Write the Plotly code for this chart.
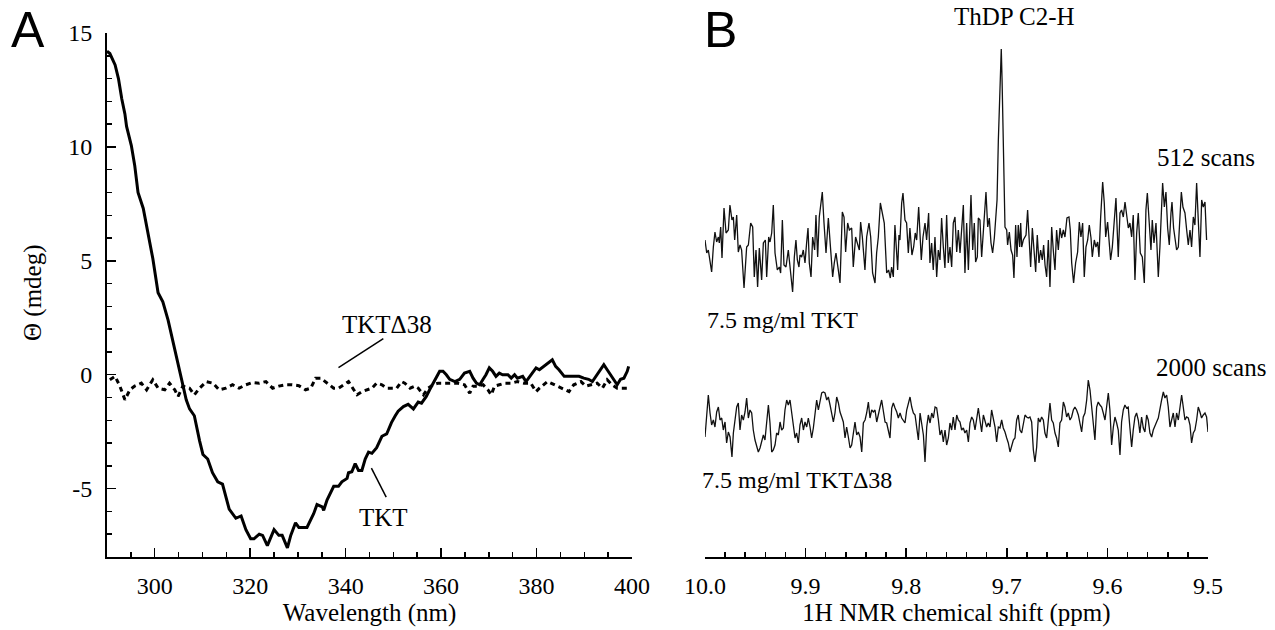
import plotly.graph_objects as go

# ---------------- Panel A: CD spectra (wavelength nm, theta mdeg) ----------------
CD_TKT = [
    (290.0, 14.2), (290.6, 14.1), (291.7, 13.6), (292.4, 13.0), (293.1, 12.1), (293.75, 11.45),
    (294.1, 10.9), (295.1, 10.06), (295.8, 9.2), (296.5, 8.0), (297.6, 7.3), (298.6, 6.2),
    (299.6, 5.1), (300.7, 3.6), (301.7, 3.2), (302.8, 2.4), (304.5, 0.8), (305.6, -0.3),
    (306.6, -1.1), (307.3, -1.5), (308.3, -1.8), (309.4, -2.9), (310.1, -3.5), (311.1, -3.7),
    (312.1, -4.3), (313.2, -4.7), (314.2, -4.8), (315.6, -5.9), (317.0, -6.3), (318.1, -6.2),
    (319.1, -6.8), (320.1, -7.2), (320.8, -7.2), (321.9, -7.0), (322.6, -7.05), (323.6, -7.5),
    (325.0, -6.8), (326.0, -7.05), (326.7, -7.05), (327.8, -7.6), (328.5, -7.05), (329.5, -6.5),
    (330.2, -6.7), (331.9, -6.7), (333.3, -6.1), (334.0, -5.7), (335.1, -5.8), (335.4, -5.95),
    (336.1, -5.5), (337.5, -4.9), (338.5, -4.9), (339.2, -4.7), (340.3, -4.55), (340.6, -4.3),
    (341.3, -4.26), (342.0, -3.9), (342.7, -4.2), (343.4, -4.2), (344.1, -3.7), (344.8, -3.4),
    (345.5, -3.45), (346.5, -3.2), (347.6, -2.7), (348.6, -2.6), (349.6, -2.1), (350.4, -1.8),
    (351.0, -1.6), (352.1, -1.4), (353.1, -1.3), (354.2, -1.5), (355.2, -1.2), (355.9, -1.25),
    (356.9, -0.95), (357.6, -0.66), (358.3, -0.37), (359.0, -0.15), (359.7, 0.15), (360.4, 0.15),
    (361.1, 0.0), (361.8, -0.2), (362.9, -0.3), (363.9, -0.2), (364.9, 0.07), (366.0, 0.15),
    (366.7, -0.15), (367.4, -0.37), (368.1, -0.44), (368.8, -0.2), (369.4, 0.0), (370.1, 0.3),
    (370.8, 0.15), (371.5, -0.07), (372.2, 0.07), (372.9, 0.0), (374.0, 0.0), (374.7, -0.15),
    (375.4, 0.0), (376.0, -0.15), (377.1, -0.07), (377.8, -0.3), (378.8, 0.0), (379.9, 0.3),
    (380.6, 0.22), (381.6, 0.37), (382.3, 0.51), (383.3, 0.66), (384.0, 0.37), (384.7, 0.22),
    (385.8, -0.07), (386.8, -0.07), (387.8, -0.07), (388.9, -0.07), (389.9, -0.15), (390.9, -0.2),
    (391.7, -0.3), (392.7, 0.0), (393.8, 0.37), (394.1, 0.44), (394.8, 0.22), (395.5, 0.0),
    (396.2, -0.2), (396.9, -0.44), (397.6, -0.2), (398.3, -0.15), (399.0, 0.15), (399.3, 0.37),
]

CD_TKT_D38 = [
    (290.6, -0.22), (291.7, -0.07), (292.7, -0.5), (293.75, -1.1), (294.8, -0.66), (295.8, -0.5),
    (297.2, -0.37), (298.3, -0.66), (299.6, -0.22), (300.7, -0.59), (302.1, -0.66), (303.1, -0.37),
    (304.2, -0.66), (304.9, -0.95), (305.9, -0.5), (307.3, -0.59), (308.3, -0.88), (309.4, -0.59),
    (310.8, -0.3), (312.2, -0.37), (313.5, -0.66), (314.9, -0.59), (316.3, -0.44), (317.7, -0.59),
    (319.1, -0.44), (320.5, -0.34), (321.9, -0.37), (323.3, -0.3), (324.7, -0.59), (326.0, -0.5),
    (327.4, -0.44), (328.8, -0.44), (330.2, -0.48), (331.6, -0.66), (332.7, -0.59), (333.7, -0.15),
    (334.8, -0.15), (335.8, -0.3), (336.5, -0.44), (337.5, -0.59), (338.5, -0.59), (339.6, -0.44),
    (340.6, -0.3), (341.7, -0.66), (342.4, -0.88), (343.4, -0.74), (344.5, -0.66), (345.5, -0.59),
    (346.5, -0.37), (347.6, -0.44), (348.6, -0.59), (349.6, -0.59), (350.7, -0.59), (351.7, -0.3),
    (352.4, -0.37), (353.5, -0.59), (354.5, -0.5), (355.2, -0.59), (356.3, -0.88), (357.3, -0.59),
    (358.3, -0.44), (359.4, -0.37), (360.8, -0.37), (362.2, -0.37), (363.5, -0.37), (364.9, -0.44),
    (366.0, -0.81), (366.7, -0.5), (367.7, -0.5), (368.8, -0.44), (369.8, -0.66), (370.5, -0.88),
    (371.2, -0.5), (372.2, -0.44), (373.3, -0.37), (374.7, -0.37), (376.0, -0.3), (377.4, -0.37),
    (378.8, -0.37), (379.9, -0.74), (380.6, -0.59), (382.3, -0.3), (383.7, -0.44), (385.1, -0.59),
    (386.8, -0.74), (387.8, -0.44), (389.3, -0.3), (390.3, -0.5), (391.4, -0.44), (392.7, -0.37),
    (393.8, -0.59), (394.8, -0.22), (395.8, -0.44), (396.9, -0.59), (398.3, -0.59), (399.3, -0.59),
]

CD_X_TICKS = [300, 320, 340, 360, 380, 400]
CD_Y_TICKS = [-5, 0, 5, 10, 15]
CD_Y_TICKTEXT = ["-5", "0", "5", "10", "15"]

# ---------------- Panel B: 1H NMR spectra (ppm, intensity a.u.) ----------------
NMR_TKT = [
    (10.0000, 0.0), (9.9983, -1.3), (9.9967, -1.0), (9.9950, -2.0), (9.9934, -3.2), (9.9917, -0.7),
    (9.9901, 0.8), (9.9884, -0.2), (9.9867, 0.3), (9.9858, -0.3), (9.9844, 1.3), (9.9831, -1.8),
    (9.9811, 3.2), (9.9791, 0.7), (9.9768, 1.0), (9.9752, 3.5), (9.9732, 2.0), (9.9718, 2.3),
    (9.9705, 0.0), (9.9685, 2.5), (9.9669, -1.2), (9.9652, -0.5), (9.9636, -1.0), (9.9612, -4.8),
    (9.9586, -0.7), (9.9569, -0.5), (9.9546, 1.7), (9.9526, 1.3), (9.9510, -3.7), (9.9493, -1.0),
    (9.9477, -4.7), (9.9460, -0.8), (9.9437, -4.0), (9.9420, -0.3), (9.9400, 0.0), (9.9387, -3.7),
    (9.9367, 0.3), (9.9354, -0.2), (9.9337, 0.7), (9.9321, 3.5), (9.9304, -1.3), (9.9281, -3.0),
    (9.9261, -2.7), (9.9248, -3.3), (9.9231, 2.0), (9.9215, -2.5), (9.9195, -2.7), (9.9172, -1.0),
    (9.9155, -3.0), (9.9129, -5.2), (9.9112, -1.7), (9.9096, 0.0), (9.9082, -2.0), (9.9066, -2.7),
    (9.9056, -1.5), (9.9039, -1.7), (9.9023, -1.0), (9.9006, -2.3), (9.8990, -0.3), (9.8976, 1.2),
    (9.8963, -2.3), (9.8946, -3.7), (9.8930, 0.3), (9.8910, -1.0), (9.8897, 2.5), (9.8880, -1.7),
    (9.8864, 2.3), (9.8850, 3.3), (9.8834, 4.8), (9.8817, 1.7), (9.8797, -1.3), (9.8774, 2.2),
    (9.8751, -1.0), (9.8731, -3.7), (9.8715, -2.3), (9.8698, -1.3), (9.8675, -3.0), (9.8658, -4.3),
    (9.8635, 2.8), (9.8618, 2.3), (9.8602, -1.2), (9.8582, 1.7), (9.8565, 1.0), (9.8542, 1.2),
    (9.8526, -2.7), (9.8503, 0.3), (9.8486, -0.3), (9.8466, -1.0), (9.8453, 1.8), (9.8436, 0.3),
    (9.8410, -3.0), (9.8393, 0.3), (9.8370, 1.7), (9.8353, 0.3), (9.8334, -3.3), (9.8310, -4.3),
    (9.8294, -1.3), (9.8277, 0.3), (9.8257, 3.7), (9.8234, 2.7), (9.8218, 1.7), (9.8194, -3.3),
    (9.8175, -3.0), (9.8158, -3.8), (9.8145, -2.7), (9.8128, -3.7), (9.8112, 1.5), (9.8095, -1.3),
    (9.8085, -3.0), (9.8072, 0.5), (9.8062, 0.0), (9.8045, 3.7), (9.8032, 4.7), (9.8012, 2.0),
    (9.7996, 1.7), (9.7979, -1.3), (9.7963, 1.2), (9.7943, -1.5), (9.7926, -0.7), (9.7910, 0.7),
    (9.7896, 0.0), (9.7876, 3.3), (9.7863, 0.3), (9.7850, -2.0), (9.7833, 0.3), (9.7813, 1.7),
    (9.7797, 0.0), (9.7777, 2.7), (9.7764, -2.3), (9.7747, -0.3), (9.7731, -3.0), (9.7714, 0.3),
    (9.7697, -3.7), (9.7681, -1.0), (9.7664, -2.0), (9.7648, 2.2), (9.7631, -0.7), (9.7615, -2.8),
    (9.7598, 2.5), (9.7582, -2.3), (9.7565, -0.7), (9.7548, -2.7), (9.7532, 1.7),
    (9.7515, 2.3), (9.7498, -1.2), (9.7482, 1.0), (9.7465, -1.3), (9.7449, 1.7), (9.7432, 3.5),
    (9.7416, -3.3), (9.7399, 1.7), (9.7382, -3.0), (9.7366, 1.3), (9.7356, 4.5), (9.7339, -1.0),
    (9.7323, 1.7), (9.7310, -2.2), (9.7293, -1.7), (9.7283, 2.2), (9.7267, 2.0), (9.7250, -1.7),
    (9.7237, 0.3), (9.7223, 2.5), (9.7207, 4.8), (9.7190, 1.3), (9.7174, 2.2), (9.7157, -0.3),
    (9.7141, -1.3), (9.7124, 0.2), (9.7111, 1.7),
    (9.7097, 4.0), (9.7084, 10.0), (9.7072, 15.0), (9.7062, 18.5), (9.7055, 19.1), (9.7047, 16.0),
    (9.7036, 9.0), (9.7027, 3.0),
    (9.7018, 1.3), (9.7001, 1.0), (9.6992, -0.5), (9.6975, 0.8), (9.6958, -1.0), (9.6942, -1.5),
    (9.6929, -3.8), (9.6912, 1.5), (9.6899, -1.7), (9.6886, 1.5), (9.6872, -0.7), (9.6862, 1.7),
    (9.6852, -0.7), (9.6836, 0.0), (9.6809, 0.5), (9.6793, 3.0), (9.6780, -0.2), (9.6763, -2.7),
    (9.6746, 1.2), (9.6727, -1.3), (9.6713, -3.2), (9.6697, 0.5), (9.6680, -2.3), (9.6664, -1.0),
    (9.6647, -2.0), (9.6634, -0.5), (9.6620, -2.5), (9.6604, -3.7), (9.6587, 0.0), (9.6571, -4.7),
    (9.6554, 1.3), (9.6538, -1.0), (9.6521, -3.0), (9.6505, 1.0), (9.6488, -1.0), (9.6471, 1.2),
    (9.6455, 0.2), (9.6438, 1.0), (9.6422, 0.3), (9.6402, 2.2), (9.6382, 2.3), (9.6369, 1.0),
    (9.6355, -2.3), (9.6336, -4.3), (9.6316, -2.3), (9.6296, -1.2), (9.6279, 1.8), (9.6263, 0.3),
    (9.6246, 1.7), (9.6230, -3.7), (9.6213, -0.7), (9.6196, 0.0), (9.6180, 1.5), (9.6163, 0.2),
    (9.6150, -1.7), (9.6130, 0.0), (9.6114, -0.7), (9.6097, -0.2), (9.6084, -1.7), (9.6067, 2.3),
    (9.6047, 5.8), (9.6031, 3.7), (9.6017, 0.3), (9.5998, 1.8), (9.5981, 0.0), (9.5968, -2.0),
    (9.5951, -0.7), (9.5935, 2.0), (9.5915, 4.2), (9.5892, -1.7), (9.5875, 2.7), (9.5859, 3.0),
    (9.5842, 2.3), (9.5825, 3.8), (9.5809, 2.2), (9.5792, 1.2), (9.5776, 1.7), (9.5759, 0.3),
    (9.5743, 2.5), (9.5726, -4.0), (9.5709, 0.7), (9.5693, 2.7), (9.5673, -1.3), (9.5653, -1.7),
    (9.5633, -4.3), (9.5617, 3.0), (9.5603, 4.7), (9.5587, 2.5), (9.5567, -1.0), (9.5554, 2.0),
    (9.5537, -0.3), (9.5517, 1.7), (9.5494, -3.7), (9.5478, -0.7), (9.5461, 3.0), (9.5451, 5.7),
    (9.5434, 3.3), (9.5418, 4.8), (9.5401, 1.2), (9.5385, -0.5), (9.5368, 2.7), (9.5358, 3.8),
    (9.5342, 1.2), (9.5328, 0.2), (9.5312, -1.0), (9.5295, -0.7), (9.5279, 2.7), (9.5265, 4.8),
    (9.5249, 3.3), (9.5229, 2.7), (9.5212, 1.0), (9.5196, -0.5), (9.5179, 1.0), (9.5163, -0.7),
    (9.5146, 2.3), (9.5130, 1.5), (9.5113, 5.7), (9.5096, 1.3), (9.5080, -1.7), (9.5063, 4.0),
    (9.5047, 3.3), (9.5030, 3.8), (9.5014, 0.0),
]

NMR_TKT_D38 = [
    (10.0000, -1.4), (9.9983, 1.0), (9.9967, 2.8), (9.9950, 1.0), (9.9934, -0.2), (9.9917, 0.3),
    (9.9901, -0.4), (9.9884, 1.1), (9.9867, 1.6), (9.9851, 0.3), (9.9834, 0.5), (9.9818, -0.7),
    (9.9801, 0.1), (9.9785, -2.0), (9.9768, -0.9), (9.9751, -1.4), (9.9732, -3.4), (9.9718, -1.0),
    (9.9702, 0.3), (9.9685, 1.6), (9.9669, 2.0), (9.9652, -0.7), (9.9636, 0.8), (9.9619, 0.3),
    (9.9602, 1.1), (9.9586, 2.5), (9.9569, 0.5), (9.9553, 1.3), (9.9536, 1.0), (9.9520, -0.7),
    (9.9503, -1.7), (9.9486, -2.4), (9.9470, -2.9), (9.9453, -2.5), (9.9437, -1.9), (9.9420, -1.2),
    (9.9404, -1.7), (9.9387, 0.1), (9.9370, 1.8), (9.9354, 0.0), (9.9337, -2.9), (9.9321, -2.7),
    (9.9304, -2.2), (9.9288, -1.0), (9.9271, -1.2), (9.9254, 0.1), (9.9238, -0.7), (9.9221, -0.5),
    (9.9205, 1.3), (9.9188, 2.3), (9.9172, 1.8), (9.9155, 2.3), (9.9138, 1.1), (9.9122, 0.0),
    (9.9105, -1.5), (9.9089, -1.0), (9.9072, -2.0), (9.9056, -0.2), (9.9039, 0.5), (9.9022, -0.7),
    (9.9006, 0.1), (9.8989, -0.4), (9.8973, 0.5), (9.8956, -0.4), (9.8940, -1.5), (9.8923, -0.5),
    (9.8906, 1.0), (9.8890, 2.3), (9.8873, 1.3), (9.8857, 2.0), (9.8840, 3.0), (9.8824, 3.1),
    (9.8807, 3.0), (9.8790, 2.3), (9.8774, 2.6), (9.8757, 1.8), (9.8741, 1.1), (9.8724, 0.1),
    (9.8708, 1.0), (9.8691, 2.6), (9.8674, 2.0), (9.8658, 1.1), (9.8641, 0.6), (9.8625, 0.1),
    (9.8608, -1.5), (9.8592, -0.4), (9.8575, -1.4), (9.8558, -2.5), (9.8542, -2.2), (9.8525, -0.7),
    (9.8509, 0.1), (9.8492, -1.2), (9.8476, -0.9), (9.8459, -1.4), (9.8442, -2.9), (9.8426, 0.0),
    (9.8409, 0.3), (9.8393, 1.0), (9.8376, 2.1), (9.8360, 0.5), (9.8343, 1.3), (9.8326, 1.1),
    (9.8310, 1.3), (9.8293, 0.1), (9.8277, 1.0), (9.8260, 1.6), (9.8244, 2.3), (9.8227, 1.0),
    (9.8210, 0.1), (9.8194, 0.0), (9.8177, -0.7), (9.8161, -1.5), (9.8144, 1.5), (9.8128, 2.0),
    (9.8111, 1.5), (9.8094, 1.1), (9.8078, 0.5), (9.8061, 1.0), (9.8045, 0.5), (9.8028, 0.3),
    (9.8012, 0.0), (9.7995, 1.3), (9.7978, 2.1), (9.7962, 2.6), (9.7945, 1.6), (9.7929, 1.0),
    (9.7912, 0.8), (9.7896, -0.7), (9.7879, -1.7), (9.7862, 1.0), (9.7846, 0.0), (9.7829, -1.2),
    (9.7813, -3.9), (9.7796, -0.4), (9.7780, 0.8), (9.7763, 0.0), (9.7746, 1.0), (9.7730, 0.5),
    (9.7713, 1.6), (9.7697, 1.5), (9.7680, 0.3), (9.7664, -1.2), (9.7647, -0.7), (9.7631, -1.9),
    (9.7614, -0.7), (9.7598, -2.2), (9.7581, -1.5), (9.7565, 0.0), (9.7548, -0.7), (9.7532, 0.6),
    (9.7515, -0.7), (9.7498, 0.8), (9.7482, 0.3), (9.7465, 0.1), (9.7449, -0.7), (9.7432, -0.5),
    (9.7416, -1.0), (9.7399, -0.7), (9.7382, -1.9), (9.7366, 0.0), (9.7349, 0.6), (9.7333, 0.3),
    (9.7316, -0.7), (9.7300, 0.5), (9.7283, 1.5), (9.7267, 0.3), (9.7250, -0.9), (9.7233, 0.8),
    (9.7217, 0.1), (9.7200, -0.4), (9.7184, 0.0), (9.7167, -0.4), (9.7151, 1.3), (9.7134, 0.3),
    (9.7117, -0.4), (9.7101, -1.9), (9.7084, -0.4), (9.7068, -0.5), (9.7051, 0.3), (9.7035, -0.5),
    (9.7018, -0.9), (9.7001, -1.5), (9.6985, -2.0), (9.6968, -2.9), (9.6952, -2.2), (9.6935, -1.7),
    (9.6919, -1.5), (9.6902, 0.3), (9.6886, 0.8), (9.6869, -0.7), (9.6852, -1.0), (9.6836, 0.1),
    (9.6819, 0.8), (9.6803, 0.6), (9.6786, 0.5), (9.6770, 0.6), (9.6753, 0.1), (9.6736, -2.7),
    (9.6720, -3.9), (9.6703, -2.4), (9.6687, 0.5), (9.6670, 0.1), (9.6654, 0.6), (9.6637, 0.3),
    (9.6621, -1.0), (9.6604, -1.5), (9.6587, 0.6), (9.6571, 2.0), (9.6554, 0.3), (9.6538, 0.0),
    (9.6521, -1.0), (9.6505, -1.5), (9.6488, -2.4), (9.6472, 0.0), (9.6455, 0.3), (9.6438, 2.1),
    (9.6422, 1.6), (9.6405, 0.6), (9.6389, 1.0), (9.6372, 0.3), (9.6356, 0.6), (9.6339, 1.3),
    (9.6323, 1.6), (9.6306, 1.3), (9.6289, 0.8), (9.6273, 0.1), (9.6256, -0.9), (9.6240, 0.6),
    (9.6223, 1.0), (9.6206, 2.3), (9.6190, 4.3), (9.6173, 3.3), (9.6157, 1.6), (9.6140, 0.5),
    (9.6124, -1.7), (9.6107, 1.6), (9.6091, 2.1), (9.6074, 1.8), (9.6057, 1.6), (9.6041, 1.0),
    (9.6024, 0.3), (9.6008, 1.6), (9.5991, 3.0), (9.5975, 1.3), (9.5958, -2.2), (9.5941, -0.4),
    (9.5925, 0.6), (9.5908, 0.0), (9.5892, -0.7), (9.5875, -3.2), (9.5859, 0.1), (9.5842, 1.3),
    (9.5826, 1.8), (9.5809, 1.5), (9.5793, 1.6), (9.5776, -0.5), (9.5759, -2.4), (9.5743, -0.7),
    (9.5726, 0.6), (9.5710, 1.0), (9.5693, 0.3), (9.5677, -1.0), (9.5660, 0.6), (9.5643, -0.5),
    (9.5627, -0.9), (9.5610, 0.8), (9.5594, 0.3), (9.5577, -1.0), (9.5560, -1.4), (9.5544, -0.7),
    (9.5527, -0.2), (9.5511, 0.1), (9.5494, 0.5), (9.5478, 1.6), (9.5461, 2.3), (9.5444, 3.1),
    (9.5428, 2.5), (9.5411, 2.8), (9.5395, 1.6), (9.5378, -0.4), (9.5362, 0.3), (9.5345, 1.0),
    (9.5328, -0.4), (9.5312, 1.0), (9.5295, 0.3), (9.5279, 1.6), (9.5262, 2.8), (9.5246, 1.6),
    (9.5229, 0.3), (9.5213, 0.6), (9.5196, 0.5), (9.5179, -0.2), (9.5163, -2.0), (9.5146, -1.0),
    (9.5130, -0.7), (9.5113, 0.3), (9.5097, 1.6), (9.5080, 1.1), (9.5064, 0.5), (9.5047, 0.8),
    (9.5030, 1.0), (9.5014, 0.6), (9.5000, -0.9),
]

NMR_X_TICKS = [10.0, 9.9, 9.8, 9.7, 9.6, 9.5]
NMR_X_TICKTEXT = ["10.0", "9.9", "9.8", "9.7", "9.6", "9.5"]

# stacking offsets of the two NMR traces (a.u.) and hidden intensity range
OFFSET_TKT = 31.7
OFFSET_D38 = 13.4
NMR_Y_RANGE = [0, 52.4]

SERIF = "Liberation Serif, Times New Roman, serif"
SANS = "Liberation Sans, Arial, sans-serif"
FS_TICK = 24
FS_TEXT = 25

W, H = 1275, 630


def px_x(p):
    return p / W


def px_y(p):
    return 1 - p / H


def split(pairs, offset=0.0):
    xs = [p[0] for p in pairs]
    ys = [p[1] + offset for p in pairs]
    return xs, ys


fig = go.Figure()

x, y = split(CD_TKT)
fig.add_trace(go.Scatter(x=x, y=y, mode="lines", name="TKT",
                         line=dict(color="black", width=3), xaxis="x", yaxis="y"))
x, y = split(CD_TKT_D38)
fig.add_trace(go.Scatter(x=x, y=y, mode="lines", name="TKTΔ38",
                         line=dict(color="black", width=3, dash="5px,4px"), xaxis="x", yaxis="y"))
x, y = split(NMR_TKT, OFFSET_TKT)
fig.add_trace(go.Scatter(x=x, y=y, mode="lines", name="7.5 mg/ml TKT",
                         line=dict(color="#111111", width=1.3), xaxis="x2", yaxis="y2"))
x, y = split(NMR_TKT_D38, OFFSET_D38)
fig.add_trace(go.Scatter(x=x, y=y, mode="lines", name="7.5 mg/ml TKTΔ38",
                         line=dict(color="#111111", width=1.3), xaxis="x2", yaxis="y2"))

ydom = [px_y(557), px_y(33)]
tickfont = dict(family=SERIF, size=FS_TICK, color="black")
common = dict(showline=True, linewidth=2, linecolor="black", showgrid=False, zeroline=False,
              ticks="inside", ticklen=9, tickwidth=1.5, tickcolor="black", tickfont=tickfont,
              automargin=False)

fig.update_layout(
    template="none",
    width=W, height=H, margin=dict(l=0, r=0, t=0, b=0, pad=0), autosize=False,
    paper_bgcolor="white", plot_bgcolor="white", showlegend=False,
    xaxis=dict(domain=[px_x(107), px_x(632)], range=[290, 400], anchor="y",
               tickmode="array", tickvals=CD_X_TICKS, ticktext=[str(v) for v in CD_X_TICKS],
               minor=dict(tickmode="array", tickvals=list(range(290, 401, 5)), ticks="inside",
                          ticklen=5, tickwidth=1.5, tickcolor="black", showgrid=False),
               title=dict(text="Wavelength (nm)", font=dict(family=SERIF, size=FS_TEXT, color="black"), standoff=4),
               ticklabelstandoff=6, **common),
    yaxis=dict(domain=ydom, range=[-8, 15], anchor="x",
               tickmode="array", tickvals=CD_Y_TICKS, ticktext=CD_Y_TICKTEXT,
               minor=dict(tickmode="array", tickvals=list(range(-8, 16)), ticks="inside",
                          ticklen=5, tickwidth=1.5, tickcolor="black", showgrid=False),
               ticklabelstandoff=8, **common),
    xaxis2=dict(domain=[px_x(705), px_x(1208)], range=[10.0, 9.5], anchor="y2",
                tickmode="array", tickvals=NMR_X_TICKS, ticktext=NMR_X_TICKTEXT,
                minor=dict(tickmode="array", tickvals=[round(10.0 - 0.02 * i, 2) for i in range(26)],
                           ticks="inside", ticklen=5, tickwidth=1.5, tickcolor="black", showgrid=False),
                title=dict(text="1H NMR chemical shift (ppm)", font=dict(family=SERIF, size=FS_TEXT, color="black"), standoff=4),
                ticklabelstandoff=6, **common),
    yaxis2=dict(domain=ydom, range=NMR_Y_RANGE, anchor="x2", visible=False, automargin=False),
)

# leader lines for panel A labels
fig.add_shape(type="line", xref="x", yref="y", x0=338.5, y0=0.31, x1=347.9, y1=1.59,
              line=dict(color="black", width=1.5))
fig.add_shape(type="line", xref="x", yref="y", x0=348.5, y0=-5.37, x1=345.4, y1=-4.1,
              line=dict(color="black", width=1.5))


def ann(text, x, y, xanchor="center", size=FS_TEXT, family=SERIF, xref="paper", yref="paper", **kw):
    fig.add_annotation(text=text, x=x, y=y, xref=xref, yref=yref, xanchor=xanchor, yanchor="middle",
                       showarrow=False, font=dict(family=family, size=size, color="black"), **kw)


ann("A", px_x(28), px_y(30), family=SANS, size=50)
ann("B", px_x(720), px_y(30), family=SANS, size=50)
ann("Θ (mdeg)", px_x(33), px_y(293), textangle=-90)
ann("TKTΔ38", 348.75, 2.2, xref="x", yref="y")
ann("TKT", 347.9, -6.26, xref="x", yref="y")
ann("ThDP C2-H", px_x(1015), px_y(16))
ann("512 scans", px_x(1257), px_y(157), xanchor="right")
ann("2000 scans", px_x(1268), px_y(367), xanchor="right")
ann("7.5 mg/ml TKT", px_x(705), px_y(320), xanchor="left", size=24)
ann("7.5 mg/ml TKTΔ38", px_x(700), px_y(480), xanchor="left", size=24)

# remove the browser's default 8px body margin so the figure sits at the window origin
fig.write_html("out.html", config={"displayModeBar": False, "staticPlot": True},
               post_script="document.body.style.margin='0px';")
